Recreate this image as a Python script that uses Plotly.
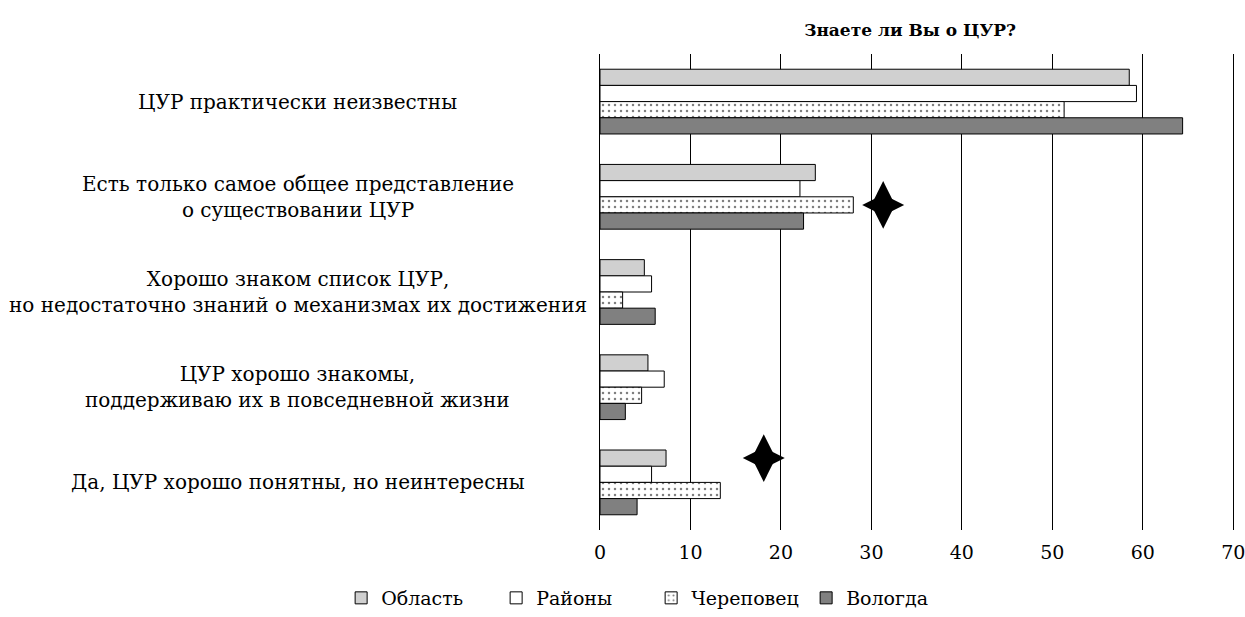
import plotly.graph_objects as go

# categories (top to bottom)
categories = [
    "ЦУР практически неизвестны",
    "Есть только самое общее представление<br>о существовании ЦУР",
    "Хорошо знаком список ЦУР,<br>но недостаточно знаний о механизмах их достижения",
    "ЦУР хорошо знакомы,<br>поддерживаю их в повседневной жизни",
    "Да, ЦУР хорошо понятны, но неинтересны",
]

series_names = ["Область", "Районы", "Череповец", "Вологда"]
oblast = [58.5, 23.8, 4.9, 5.3, 7.3]
rayony = [59.3, 22.1, 5.7, 7.1, 5.7]
cherepovets = [51.3, 28.0, 2.5, 4.6, 13.3]
vologda = [64.4, 22.5, 6.1, 2.8, 4.1]

x_ticks = [0, 10, 20, 30, 40, 50, 60, 70]

# star markers: category index, series index, x value
star_cat = [1, 4]
star_series = [2, 0]
star_x = [31.3, 18.1]

FONT = "DejaVu Serif"
BARGAP = 0.32
n_series = len(series_names)
bar_w = (1 - BARGAP) / n_series

styles = [
    dict(color="#d0d0d0"),
    dict(color="#ffffff"),
    dict(color="#ffffff", pattern=dict(shape=".", fgcolor="#000000", bgcolor="#ffffff",
                                      size=6, solidity=0.14)),
    dict(color="#808080"),
]

fig = go.Figure()
cat_pos = list(range(len(categories)))
for name, vals, st in zip(series_names, [oblast, rayony, cherepovets, vologda], styles):
    fig.add_trace(go.Bar(
        x=vals, y=cat_pos, orientation="h", name=name,
        marker=dict(line=dict(color="#000000", width=1), **st),
    ))

# four-point stars next to selected bars (tall + wide diamond overlay)
star_y = [c + (s - (n_series - 1) / 2) * bar_w for c, s in zip(star_cat, star_series)]
for sym, sz in [("diamond-tall", 34), ("diamond-wide", 30)]:
    fig.add_trace(go.Scatter(
        x=star_x, y=star_y, mode="markers", showlegend=False, hoverinfo="skip",
        marker=dict(symbol=sym, size=sz, color="#000000", line=dict(width=0)),
    ))

# category labels, centred text left of the axis
for i, c in enumerate(categories):
    fig.add_annotation(
        text=c, x=-0.475, xref="paper", y=i, yref="y",
        xanchor="center", yanchor="middle", align="center", showarrow=False,
        font=dict(family=FONT, size=20, color="#000000"),
    )

fig.update_layout(
    width=1245, height=617,
    margin=dict(l=600, r=9, t=54, b=87),
    paper_bgcolor="white", plot_bgcolor="white",
    barmode="group", bargap=BARGAP, bargroupgap=0,
    font=dict(family=FONT, size=17, color="#000000"),
    title=dict(text="<b>Знаете ли Вы о ЦУР?</b>", x=0.731, xref="container", y=0.951,
               xanchor="center", yanchor="middle", font=dict(family=FONT, size=17)),
    legend=dict(orientation="h", x=0.523, xanchor="center", xref="container",
                y=0.0, yanchor="bottom", yref="container",
                font=dict(family=FONT, size=19), itemwidth=30,
                entrywidth=110, entrywidthmode="pixels",
                traceorder="normal"),
    showlegend=True,
)
fig.update_xaxes(
    range=[0, 70.3], tickvals=x_ticks, showgrid=True, gridcolor="#000000", gridwidth=1,
    zeroline=False, showline=False, ticks="", ticklabelstandoff=9,
    ticklabeloverflow="allow", automargin=False,
    tickfont=dict(family=FONT, size=19), fixedrange=True,
)
fig.update_yaxes(
    range=[4.5, -0.5], showticklabels=False, showgrid=False, zeroline=False,
    showline=True, linecolor="#000000", linewidth=1, ticks="", fixedrange=True,
    automargin=False,
)

# drop the default page margin so the 1245x617 figure fills the window exactly
fig.write_html("out.html", config={"displayModeBar": False},
               post_script="document.body.style.margin = '0';")
